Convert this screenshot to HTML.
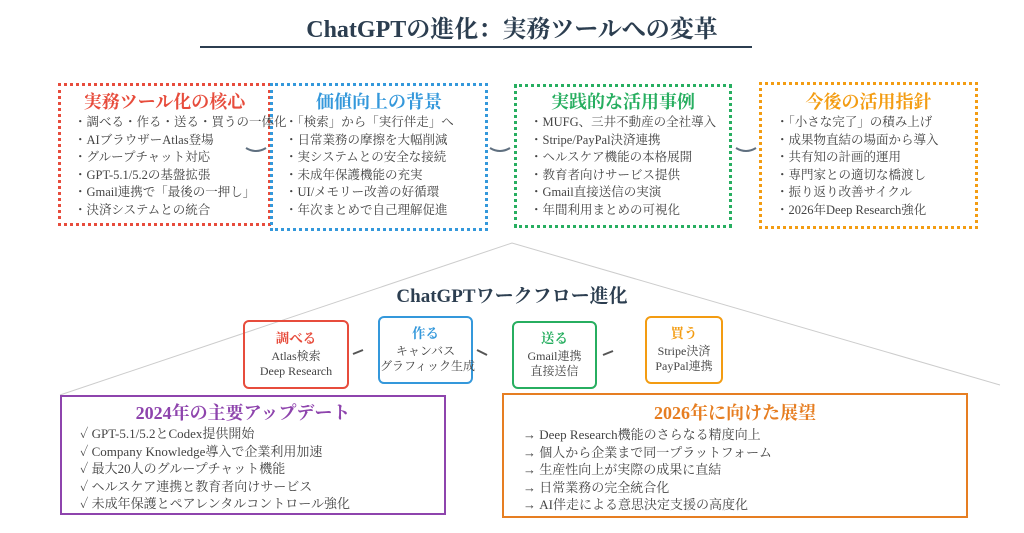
<!DOCTYPE html>
<html><head><meta charset="utf-8"><style>
body{margin:0;width:1024px;height:533px;background:#fff;position:relative;overflow:hidden;font-family:"Liberation Serif","Noto Serif CJK SC","Noto Sans CJK JP",serif;color:#444}
.a{position:absolute}
.box{position:absolute;box-sizing:border-box}
.ttl{position:absolute;left:0;right:0;text-align:center;font-weight:bold;font-size:18px}
.it{position:absolute;font-size:12.5px;line-height:17.6px;white-space:nowrap;color:#444}
.st{position:absolute;box-sizing:border-box;border:2px solid;border-radius:6px;text-align:center;font-size:12px;line-height:15px;color:#444;white-space:nowrap}
.st b{display:block;font-size:13.5px;margin-bottom:3px}
</style></head><body>
<svg class="a" style="left:0;top:0" width="1024" height="533">
<line x1="200" y1="47" x2="752" y2="47" stroke="#2c3e50" stroke-width="2"/>
<polyline points="60,395 512,243 1000,385" fill="none" stroke="#ccc" stroke-width="1"/>
<path d="M246,148 q10,6 20,0" fill="none" stroke="#607080" stroke-width="2"/>
<path d="M490,148 q10,6 20,0" fill="none" stroke="#607080" stroke-width="2"/>
<path d="M736,148 q10,6 20,0" fill="none" stroke="#607080" stroke-width="2"/>
<line x1="353" y1="354" x2="363" y2="350" stroke="#555" stroke-width="2"/>
<line x1="477" y1="350" x2="487" y2="355" stroke="#555" stroke-width="2"/>
<line x1="603" y1="355" x2="613" y2="351" stroke="#555" stroke-width="2"/>
</svg>
<div class="a" style="left:0;width:1024px;top:9px;text-align:center;font-size:24px;font-weight:bold;color:#2c3e50">ChatGPTの進化：実務ツールへの変革</div>

<div class="box" style="left:58px;top:83px;width:213px;height:143px;border:3px dotted #e74c3c"><div class="ttl" style="top:2px;color:#e74c3c">実務ツール化の核心</div></div>
<div class="box" style="left:270px;top:83px;width:218px;height:148px;border:3px dotted #3498db"><div class="ttl" style="top:2px;color:#3498db">価値向上の背景</div></div>
<div class="box" style="left:514px;top:84px;width:218px;height:144px;border:3px dotted #27ae60"><div class="ttl" style="top:1px;color:#27ae60">実践的な活用事例</div></div>
<div class="box" style="left:759px;top:82px;width:219px;height:147px;border:3px dotted #f39c12"><div class="ttl" style="top:3px;color:#f39c12">今後の活用指針</div></div>

<div class="it" style="left:74px;top:114px">・調べる・作る・送る・買うの一体化<br>・AIブラウザーAtlas登場<br>・グループチャット対応<br>・GPT-5.1/5.2の基盤拡張<br>・Gmail連携で「最後の一押し」<br>・決済システムとの統合</div>
<div class="it" style="left:285px;top:114px">・「検索」から「実行伴走」へ<br>・日常業務の摩擦を大幅削減<br>・実システムとの安全な接続<br>・未成年保護機能の充実<br>・UI/メモリー改善の好循環<br>・年次まとめで自己理解促進</div>
<div class="it" style="left:530px;top:114px">・MUFG、三井不動産の全社導入<br>・Stripe/PayPal決済連携<br>・ヘルスケア機能の本格展開<br>・教育者向けサービス提供<br>・Gmail直接送信の実演<br>・年間利用まとめの可視化</div>
<div class="it" style="left:776px;top:114px">・「小さな完了」の積み上げ<br>・成果物直結の場面から導入<br>・共有知の計画的運用<br>・専門家との適切な橋渡し<br>・振り返り改善サイクル<br>・2026年Deep Research強化</div>

<div class="a" style="left:0;width:1024px;top:281px;text-align:center;font-size:19px;font-weight:bold;color:#2c3e50">ChatGPTワークフロー進化</div>
<div class="st" style="left:243px;top:320px;width:106px;height:69px;border-color:#e74c3c;padding-top:9px"><b style="color:#e74c3c">調べる</b>Atlas検索<br>Deep Research</div>
<div class="st" style="left:378px;top:316px;width:95px;height:68px;border-color:#3498db;padding-top:8px"><b style="color:#3498db">作る</b>キャンバス<br>グラフィック生成</div>
<div class="st" style="left:512px;top:321px;width:85px;height:68px;border-color:#27ae60;padding-top:8px"><b style="color:#27ae60">送る</b>Gmail連携<br>直接送信</div>
<div class="st" style="left:645px;top:316px;width:78px;height:68px;border-color:#f39c12;padding-top:8px"><b style="color:#f39c12">買う</b>Stripe決済<br>PayPal連携</div>

<div class="box" style="left:60px;top:395px;width:386px;height:120px;border:2px solid #8e44ad"><div class="ttl" style="top:2px;left:0;right:20px;color:#8e44ad">2024年の主要アップデート</div></div>
<div class="it" style="left:80px;top:425px;font-size:13px">✓ GPT-5.1/5.2とCodex提供開始<br>✓ Company Knowledge導入で企業利用加速<br>✓ 最大20人のグループチャット機能<br>✓ ヘルスケア連携と教育者向けサービス<br>✓ 未成年保護とペアレンタルコントロール強化</div>
<div class="box" style="left:502px;top:393px;width:466px;height:125px;border:2px solid #e67e22"><div class="ttl" style="top:4px;color:#e67e22">2026年に向けた展望</div></div>
<div class="it" style="left:523px;top:426px;font-size:13px">→ Deep Research機能のさらなる精度向上<br>→ 個人から企業まで同一プラットフォーム<br>→ 生産性向上が実際の成果に直結<br>→ 日常業務の完全統合化<br>→ AI伴走による意思決定支援の高度化</div>
</body></html>
